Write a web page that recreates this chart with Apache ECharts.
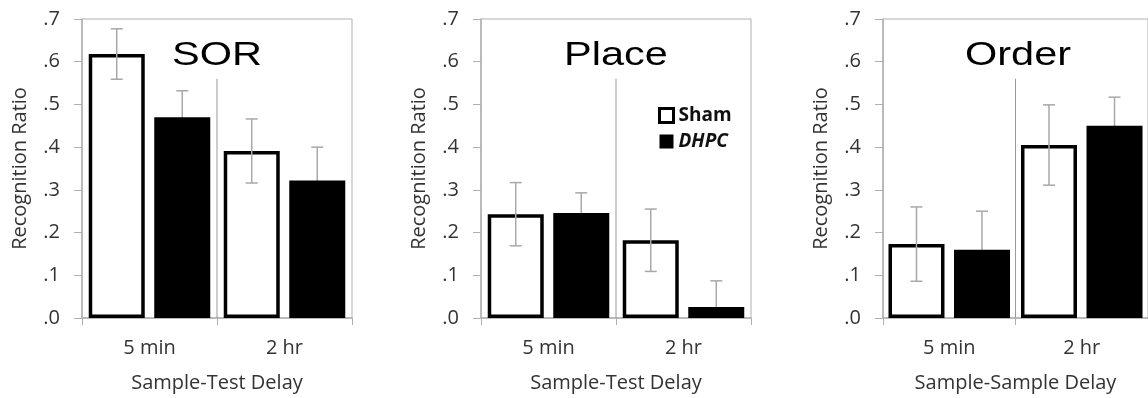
<!DOCTYPE html>
<html>
<head>
<meta charset="utf-8">
<script src="https://cdn.jsdelivr.net/npm/echarts@6/dist/echarts.min.js"></script>
<style>
  html, body { margin: 0; padding: 0; background: #fff; }
  #chart { width: 1148px; height: 398px; }
</style>
</head>
<body>
<div id="chart"></div>
<script>
// ---- data ----
const categories = ['5 min', '2 hr'];
const panelTitles = ['SOR', 'Place', 'Order'];
const xAxisNames = ['Sample-Test Delay', 'Sample-Test Delay', 'Sample-Sample Delay'];
const yAxisName = 'Recognition Ratio';
const groupNames = ['Sham', 'DHPC'];
const shamMeans = [[0.618, 0.391], [0.243, 0.182], [0.173, 0.405]];
const shamSE    = [[0.059, 0.075], [0.074, 0.073], [0.087, 0.094]];
const dhpcMeans = [[0.470, 0.322], [0.246, 0.026], [0.160, 0.450]];
const dhpcSE    = [[0.062, 0.078], [0.047, 0.061], [0.090, 0.067]];
const yMin = 0, yMax = 0.7, yStep = 0.1;
const dividerTop = 0.56;

// ---- layout / style ----
const gridLefts = [82, 481, 883];
const gridWidth = 270;
const BAR_W = 56;
const BAR_GAP = 0.17;
const AXIS_GRAY = '#b0b0b0';
const ERR_GRAY = '#a8a8a8';
const TEXT = '#333';
const FONT = 'Open Sans';
const FS = 20;

const chart = echarts.init(document.getElementById('chart'));

function errRender(sign) {
  return function (params, api) {
    const c = api.value(0), m = api.value(1), s = api.value(2);
    const off = sign * (BAR_W + BAR_W * BAR_GAP) / 2;
    const x = api.coord([c, m])[0] + off;
    const yt = api.coord([c, m + s])[1];
    const yb = api.coord([c, m - s])[1];
    const st = { stroke: ERR_GRAY, lineWidth: 1.5 };
    return {
      type: 'group',
      children: [
        { type: 'line', shape: { x1: x, y1: yt, x2: x, y2: yb }, style: st },
        { type: 'line', shape: { x1: x - 6, y1: yt, x2: x + 6, y2: yt }, style: st },
        { type: 'line', shape: { x1: x - 6, y1: yb, x2: x + 6, y2: yb }, style: st }
      ]
    };
  };
}

function dividerRender(params, api) {
  const x = api.coord([0, 0])[0] + api.size([1, 0])[0] / 2;
  const y1 = api.coord([0, api.value(1)])[1];
  const y2 = api.coord([0, 0])[1];
  return { type: 'line', shape: { x1: x, y1: y1, x2: x, y2: y2 }, style: { stroke: '#9a9a9a', lineWidth: 1 } };
}

const grids = [], xAxes = [], yAxes = [], series = [], graphics = [];
for (let p = 0; p < 3; p++) {
  grids.push({ left: gridLefts[p], width: gridWidth, top: 19, bottom: 80, show: true, borderColor: AXIS_GRAY, borderWidth: 1 });
  xAxes.push({
    type: 'category', gridIndex: p, data: categories,
    axisLine: { lineStyle: { color: AXIS_GRAY, width: 1.5 } },
    axisTick: { show: true, length: 7, lineStyle: { color: AXIS_GRAY } },
    axisLabel: { color: TEXT, fontFamily: FONT, fontSize: FS, margin: 20 },
    name: xAxisNames[p], nameLocation: 'middle', nameGap: 55,
    nameTextStyle: { color: TEXT, fontFamily: FONT, fontSize: FS }
  });
  yAxes.push({
    type: 'value', gridIndex: p, min: yMin, max: yMax, interval: yStep,
    splitLine: { show: false },
    axisLine: { show: true, lineStyle: { color: AXIS_GRAY, width: 1.5 } },
    axisTick: { show: true, length: 8, lineStyle: { color: AXIS_GRAY } },
    axisLabel: {
      color: TEXT, fontFamily: FONT, fontSize: FS, margin: 22,
      formatter: v => v.toFixed(1).replace(/^0/, '')
    },
    name: yAxisName, nameLocation: 'middle', nameGap: 52,
    nameTextStyle: { color: TEXT, fontFamily: FONT, fontSize: FS }
  });
  series.push({
    type: 'custom', xAxisIndex: p, yAxisIndex: p, z: 1, silent: true, clip: false,
    renderItem: dividerRender, data: [[0, dividerTop]]
  });
  series.push({
    name: groupNames[0], type: 'bar', xAxisIndex: p, yAxisIndex: p, z: 2,
    barWidth: BAR_W, barGap: (BAR_GAP * 100) + '%',
    itemStyle: { color: '#fff', borderColor: '#000', borderWidth: 3.5 },
    data: shamMeans[p]
  });
  series.push({
    name: groupNames[1], type: 'bar', xAxisIndex: p, yAxisIndex: p, z: 4,
    barWidth: BAR_W, barGap: (BAR_GAP * 100) + '%',
    itemStyle: { color: '#000', borderColor: '#000', borderWidth: 3 },
    data: dhpcMeans[p]
  });
  series.push({
    type: 'custom', xAxisIndex: p, yAxisIndex: p, z: 3, silent: true, clip: true,
    renderItem: errRender(-1),
    data: shamMeans[p].map((m, i) => [i, m, shamSE[p][i]])
  });
  series.push({
    type: 'custom', xAxisIndex: p, yAxisIndex: p, z: 3, silent: true, clip: true,
    renderItem: errRender(1),
    data: dhpcMeans[p].map((m, i) => [i, m, dhpcSE[p][i]])
  });
  graphics.push({
    type: 'text', x: gridLefts[p] + gridWidth / 2, y: 56, scaleX: 1.22, z: 10,
    style: {
      text: panelTitles[p], fill: '#000', fontFamily: 'Liberation Sans, Arial, sans-serif',
      fontSize: 34, align: 'center', verticalAlign: 'middle'
    }
  });
}

chart.setOption({
  animation: false,
  backgroundColor: '#fff',
  grid: grids,
  xAxis: xAxes,
  yAxis: yAxes,
  legend: {
    orient: 'vertical', left: 658, top: 106, padding: 0, itemWidth: 14, itemHeight: 14, itemGap: 7,
    icon: 'rect',
    data: [
      { name: 'Sham', itemStyle: { color: '#fff', borderColor: '#000', borderWidth: 3 } },
      { name: 'DHPC', itemStyle: { color: '#000', borderColor: '#000', borderWidth: 0 } }
    ],
    formatter: n => n === 'DHPC' ? '{i|' + n + '}' : '{b|' + n + '}',
    textStyle: {
      rich: {
        b: { fontFamily: FONT, fontWeight: 'bold', fontSize: 19, lineHeight: 21, color: '#111' },
        i: { fontFamily: FONT, fontWeight: 'bold', fontStyle: 'italic', fontSize: 19, lineHeight: 21, color: '#111' }
      }
    }
  },
  graphic: graphics,
  series: series
});
</script>
</body>
</html>
